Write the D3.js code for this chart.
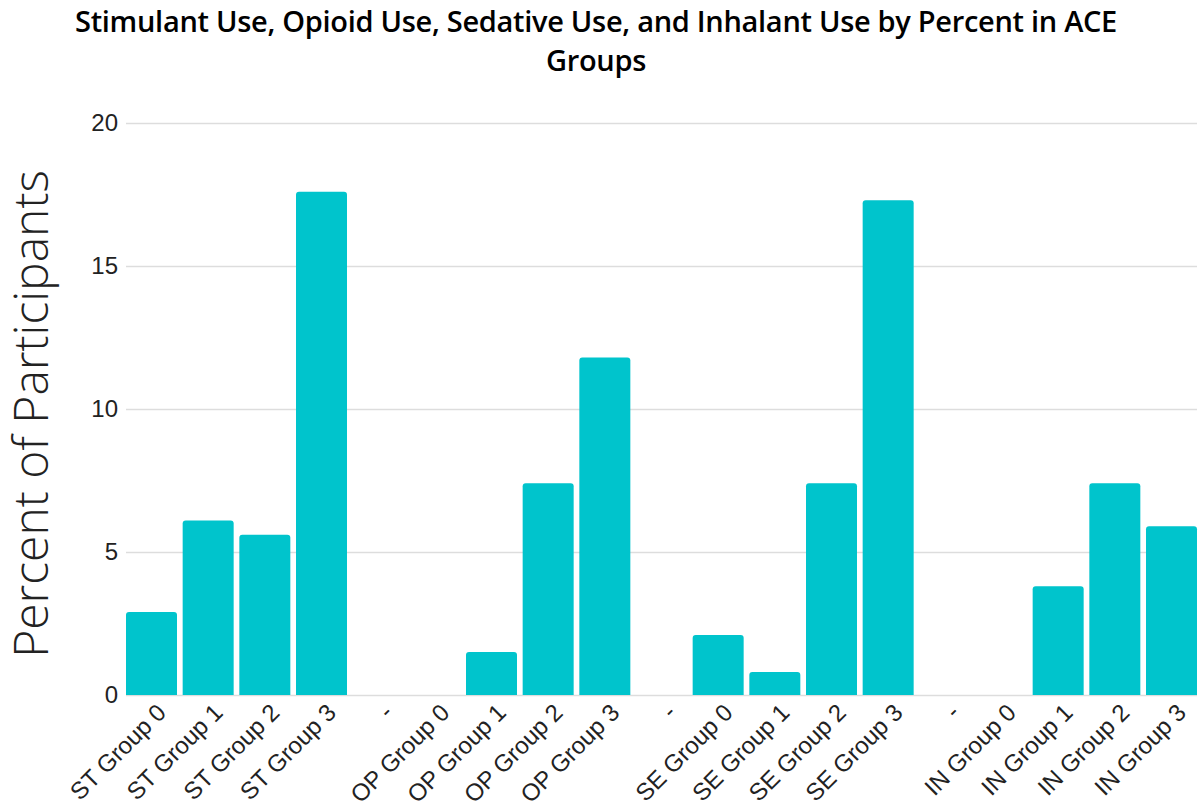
<!DOCTYPE html>
<html>
<head>
<meta charset="utf-8">
<script src="https://cdn.jsdelivr.net/npm/d3@7/dist/d3.min.js"></script>
<style>
  html, body { margin: 0; padding: 0; background: #fff; }
  svg { display: block; }
</style>
</head>
<body>
<svg id="chart" width="1204" height="804"></svg>
<script>
// Category labels along the x axis ("-" entries are spacer columns between substances)
const categories = [
  "ST Group 0", "ST Group 1", "ST Group 2", "ST Group 3", "-",
  "OP Group 0", "OP Group 1", "OP Group 2", "OP Group 3", "-",
  "SE Group 0", "SE Group 1", "SE Group 2", "SE Group 3", "-",
  "IN Group 0", "IN Group 1", "IN Group 2", "IN Group 3"
];
// Percent of participants for each category
const percents = [
  2.9, 6.1, 5.6, 17.6, 0,
  0, 1.5, 7.4, 11.8, 0,
  2.1, 0.8, 7.4, 17.3, 0,
  0, 3.8, 7.4, 5.9
];
const yTicks = [0, 5, 10, 15, 20];

const data = categories.map((c, i) => ({ key: i, label: c, value: percents[i] }));

const svg = d3.select("#chart");
const margin = { left: 126, right: 7, top: 123, bottom: 109 };
const W = 1204, H = 804;

const x = d3.scaleBand()
  .domain(data.map(d => d.key))
  .range([margin.left, W - margin.right])
  .paddingInner(0.1)
  .paddingOuter(0.0);

const y = d3.scaleLinear()
  .domain([0, 20])
  .range([H - margin.bottom, margin.top]);

// Title (two lines)
const titleLines = ["Stimulant Use, Opioid Use, Sedative Use, and Inhalant Use by Percent in ACE", "Groups"];
svg.append("g").selectAll("text")
  .data(titleLines)
  .join("text")
  .attr("x", 596)
  .attr("y", (d, i) => 32 + i * 39)
  .attr("text-anchor", "middle")
  .style("font-family", "'Open Sans', sans-serif")
  .style("font-weight", 600)
  .style("font-size", "29px")
  .style("letter-spacing", "-0.3px")
  .attr("fill", "#000")
  .text(d => d);

// Gridlines and y tick labels
const yAxis = d3.axisLeft(y)
  .tickValues(yTicks)
  .tickSize(-(W - margin.right - margin.left))
  .tickPadding(8);
const gy = svg.append("g")
  .attr("transform", `translate(${margin.left},0)`)
  .call(yAxis);
gy.select(".domain").remove();
gy.selectAll(".tick line").attr("stroke", "#dddddd").attr("stroke-width", 1.5);
gy.selectAll(".tick text")
  .style("font-family", "'Liberation Sans', Arial, sans-serif")
  .style("font-size", "24px")
  .attr("fill", "#222");

// Y axis title
svg.append("text")
  .attr("transform", `translate(48, 414) rotate(-90)`)
  .attr("text-anchor", "middle")
  .style("font-family", "'Open Sans', sans-serif")
  .style("font-weight", 300)
  .style("font-size", "48px")
  .attr("fill", "#222")
  .text("Percent of Participants");

// Bars with slightly rounded tops
svg.append("g").selectAll("path")
  .data(data.filter(d => d.value > 0))
  .join("path")
  .attr("fill", "#00c4cc")
  .attr("d", d => {
    const x0 = x(d.key), w = x.bandwidth();
    const y0 = y(d.value), yb = y(0);
    const r = Math.min(3, (yb - y0) / 2);
    return `M${x0},${yb} L${x0},${y0 + r} Q${x0},${y0} ${x0 + r},${y0} ` +
           `L${x0 + w - r},${y0} Q${x0 + w},${y0} ${x0 + w},${y0 + r} L${x0 + w},${yb} Z`;
  });

// X axis labels, rotated
const xAxis = d3.axisBottom(x)
  .tickFormat(k => categories[k])
  .tickSize(0)
  .tickPadding(0);
const gx = svg.append("g")
  .attr("transform", `translate(0,${y(0)})`)
  .call(xAxis);
gx.select(".domain").remove();
gx.selectAll(".tick text")
  .style("font-family", "'Liberation Sans', Arial, sans-serif")
  .style("font-size", "24px")
  .attr("fill", "#222")
  .attr("text-anchor", "end")
  .attr("dy", null)
  .attr("dx", null)
  .attr("y", 0)
  .attr("transform", "translate(16,19) rotate(-45)");
</script>
</body>
</html>
